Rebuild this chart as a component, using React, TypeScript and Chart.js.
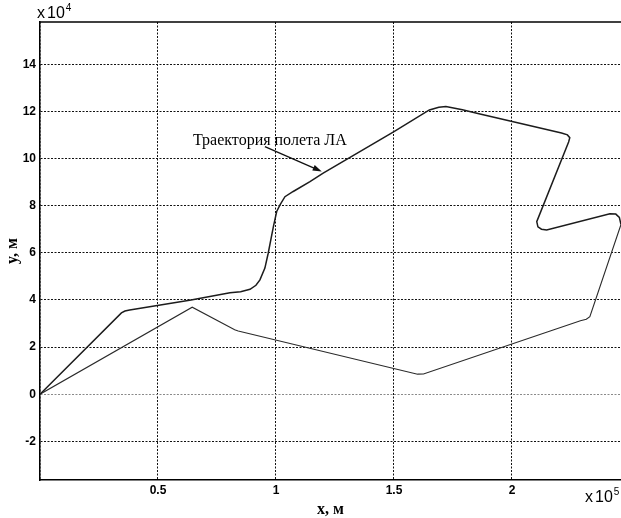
import React, { useEffect, useRef } from "react";
import { Chart, registerables } from "chart.js";

Chart.register(...registerables);

// x values in units of 1e5 m, y values in units of 1e4 m
const outboundX = [0, 0.345, 0.36, 0.38, 0.64, 0.805, 0.85, 0.89, 0.915, 0.932, 0.953, 0.967, 0.989, 1.003, 1.017, 1.038, 1.073, 1.144, 1.2, 1.5, 1.65, 1.69, 1.72, 1.79, 1.86, 2.21, 2.235, 2.245, 2.24, 2.105, 2.11, 2.125, 2.147, 2.415, 2.44, 2.455, 2.462];
const outboundY = [0, 3.45, 3.53, 3.57, 4.0, 4.3, 4.35, 4.45, 4.62, 4.85, 5.35, 5.98, 7.11, 7.75, 8.03, 8.38, 8.6, 9.02, 9.38, 11.14, 12.06, 12.17, 12.2, 12.07, 11.9, 11.08, 11.0, 10.88, 10.7, 7.32, 7.1, 7.0, 6.97, 7.65, 7.64, 7.5, 7.2];

const returnX = [2.462, 2.33, 2.315, 2.29, 1.625, 1.6, 0.84, 0.825, 0.645, 0];
const returnY = [7.2, 3.29, 3.18, 3.12, 0.86, 0.85, 2.68, 2.73, 3.69, 0];

const xTickValues = [0, 0.5, 1, 1.5, 2];
const yTickValues = [-2, 0, 2, 4, 6, 8, 10, 12, 14];
const xLimits = [0, 2.462];
const yLimits = [-3.64, 15.79];

const xAxisTitle = "x, м";
const yAxisTitle = "y, м";
const xExponent = "5";
const yExponent = "4";
const annotationText = "Траектория полета ЛА";
const annotationAt = [0.648, 10.58];
const arrowFrom = [0.953, 10.5];
const arrowTo = [1.194, 9.45];

const toPoints = (xs: number[], ys: number[]) => xs.map((x, i) => ({ x, y: ys[i] }));

const overlay = {
  id: "overlay",
  beforeDraw(chart: any) {
    const { ctx, width, height } = chart;
    ctx.save();
    ctx.fillStyle = "#ffffff";
    ctx.fillRect(0, 0, width, height);
    ctx.restore();
  },
  afterDraw(chart: any) {
    const { ctx, chartArea, scales } = chart;
    const xs = scales.x;
    const ys = scales.y;
    ctx.save();
    // top frame line
    ctx.strokeStyle = "#000";
    ctx.lineWidth = 1.5;
    ctx.beginPath();
    ctx.moveTo(chartArea.left, chartArea.top);
    ctx.lineTo(chartArea.right, chartArea.top);
    ctx.stroke();

    // annotation text
    ctx.fillStyle = "#000";
    ctx.font = '16px "Liberation Serif", "Times New Roman", serif';
    ctx.textAlign = "left";
    ctx.textBaseline = "alphabetic";
    ctx.fillText(annotationText, xs.getPixelForValue(annotationAt[0]), ys.getPixelForValue(annotationAt[1]));

    // arrow
    const ax0 = xs.getPixelForValue(arrowFrom[0]);
    const ay0 = ys.getPixelForValue(arrowFrom[1]);
    const ax1 = xs.getPixelForValue(arrowTo[0]);
    const ay1 = ys.getPixelForValue(arrowTo[1]);
    const ang = Math.atan2(ay1 - ay0, ax1 - ax0);
    const headLen = 9;
    const headW = 3;
    ctx.strokeStyle = "#111";
    ctx.lineWidth = 1.3;
    ctx.beginPath();
    ctx.moveTo(ax0, ay0);
    ctx.lineTo(ax1 - Math.cos(ang) * headLen * 0.8, ay1 - Math.sin(ang) * headLen * 0.8);
    ctx.stroke();
    ctx.fillStyle = "#111";
    ctx.beginPath();
    ctx.moveTo(ax1, ay1);
    ctx.lineTo(
      ax1 - Math.cos(ang) * headLen - Math.sin(ang) * headW,
      ay1 - Math.sin(ang) * headLen + Math.cos(ang) * headW
    );
    ctx.lineTo(
      ax1 - Math.cos(ang) * headLen + Math.sin(ang) * headW,
      ay1 - Math.sin(ang) * headLen - Math.cos(ang) * headW
    );
    ctx.closePath();
    ctx.fill();

    // exponent multipliers
    const drawPow = (x0: number, base: number, exp: string) => {
      ctx.fillStyle = "#000";
      ctx.textAlign = "left";
      ctx.textBaseline = "alphabetic";
      ctx.font = '16px "Liberation Sans", Arial, sans-serif';
      ctx.fillText("x", x0, base);
      ctx.fillText("10", x0 + 10, base);
      const w = ctx.measureText("10").width;
      ctx.font = '10px "Liberation Sans", Arial, sans-serif';
      ctx.fillText(exp, x0 + 10 + w + 1, base - 7);
    };
    drawPow(chartArea.left - 3, chartArea.top - 4, yExponent);
    drawPow(chartArea.right - 36, chartArea.bottom + 22, xExponent);
    ctx.restore();
  },
};

export default function App() {
  const ref = useRef<HTMLCanvasElement | null>(null);
  useEffect(() => {
    if (!ref.current) return;
    Chart.defaults.font.family = '"Liberation Sans", Arial, sans-serif';
    const gridColor = (c: any) => (c.tick && c.tick.value === 0 ? "#8a8a8a" : "#111111");
    const chart = new Chart(ref.current, {
      type: "scatter",
      data: {
        datasets: [
          {
            data: toPoints(outboundX, outboundY),
            showLine: true,
            borderColor: "#1c1c1c",
            borderWidth: 1.5,
            pointRadius: 0,
            tension: 0,
            fill: false,
          },
          {
            data: toPoints(returnX, returnY),
            showLine: true,
            borderColor: "#2a2a2a",
            borderWidth: 1.1,
            pointRadius: 0,
            tension: 0,
            fill: false,
          },
        ],
      },
      options: {
        animation: false,
        responsive: false,
        devicePixelRatio: 1,
        layout: { padding: { top: 22, right: 0, bottom: 0, left: 0 } },
        plugins: { legend: { display: false }, tooltip: { enabled: false } },
        scales: {
          x: {
            type: "linear",
            min: xLimits[0],
            max: xLimits[1],
            afterBuildTicks: (s: any) => {
              s.ticks = xTickValues.map((v) => ({ value: v }));
            },
            afterFit: (s: any) => {
              s.height = 38;
            },
            ticks: {
              autoSkip: false,
              maxRotation: 0,
              padding: 3,
              color: "#000",
              font: { size: 12, weight: "bold" },
              callback: (v: any) => (Number(v) === 0 ? "" : String(v)),
            },
            grid: { color: gridColor, lineWidth: 1, drawTicks: false },
            border: { display: true, color: "#000", width: 1.5, dash: [2, 1.5] },
            title: {
              display: true,
              text: xAxisTitle,
              color: "#000",
              padding: 0,
              font: { family: '"Liberation Serif", "Times New Roman", serif', size: 16, weight: "bold", lineHeight: 1 },
            },
          },
          y: {
            type: "linear",
            min: yLimits[0],
            max: yLimits[1],
            afterBuildTicks: (s: any) => {
              s.ticks = yTickValues.map((v) => ({ value: v }));
            },
            afterFit: (s: any) => {
              s.width = 40;
            },
            ticks: {
              autoSkip: false,
              padding: 4,
              color: "#000",
              font: { size: 12, weight: "bold" },
              callback: (v: any) => String(v),
            },
            grid: { color: gridColor, lineWidth: 1, drawTicks: false },
            border: { display: true, color: "#000", width: 1.5, dash: [2, 1.5] },
            title: {
              display: true,
              text: yAxisTitle,
              color: "#000",
              padding: { top: 5, bottom: 0 },
              font: { family: '"Liberation Serif", "Times New Roman", serif', size: 16, weight: "bold", lineHeight: 1 },
            },
          },
        },
      },
      plugins: [overlay],
    } as any);
    return () => chart.destroy();
  }, []);
  return (
    <div style={{ position: "fixed", left: 0, top: 0, width: 621, height: 518, background: "#fff" }}>
      <canvas ref={ref} width={621} height={518} style={{ display: "block", width: 621, height: 518 }} />
    </div>
  );
}
